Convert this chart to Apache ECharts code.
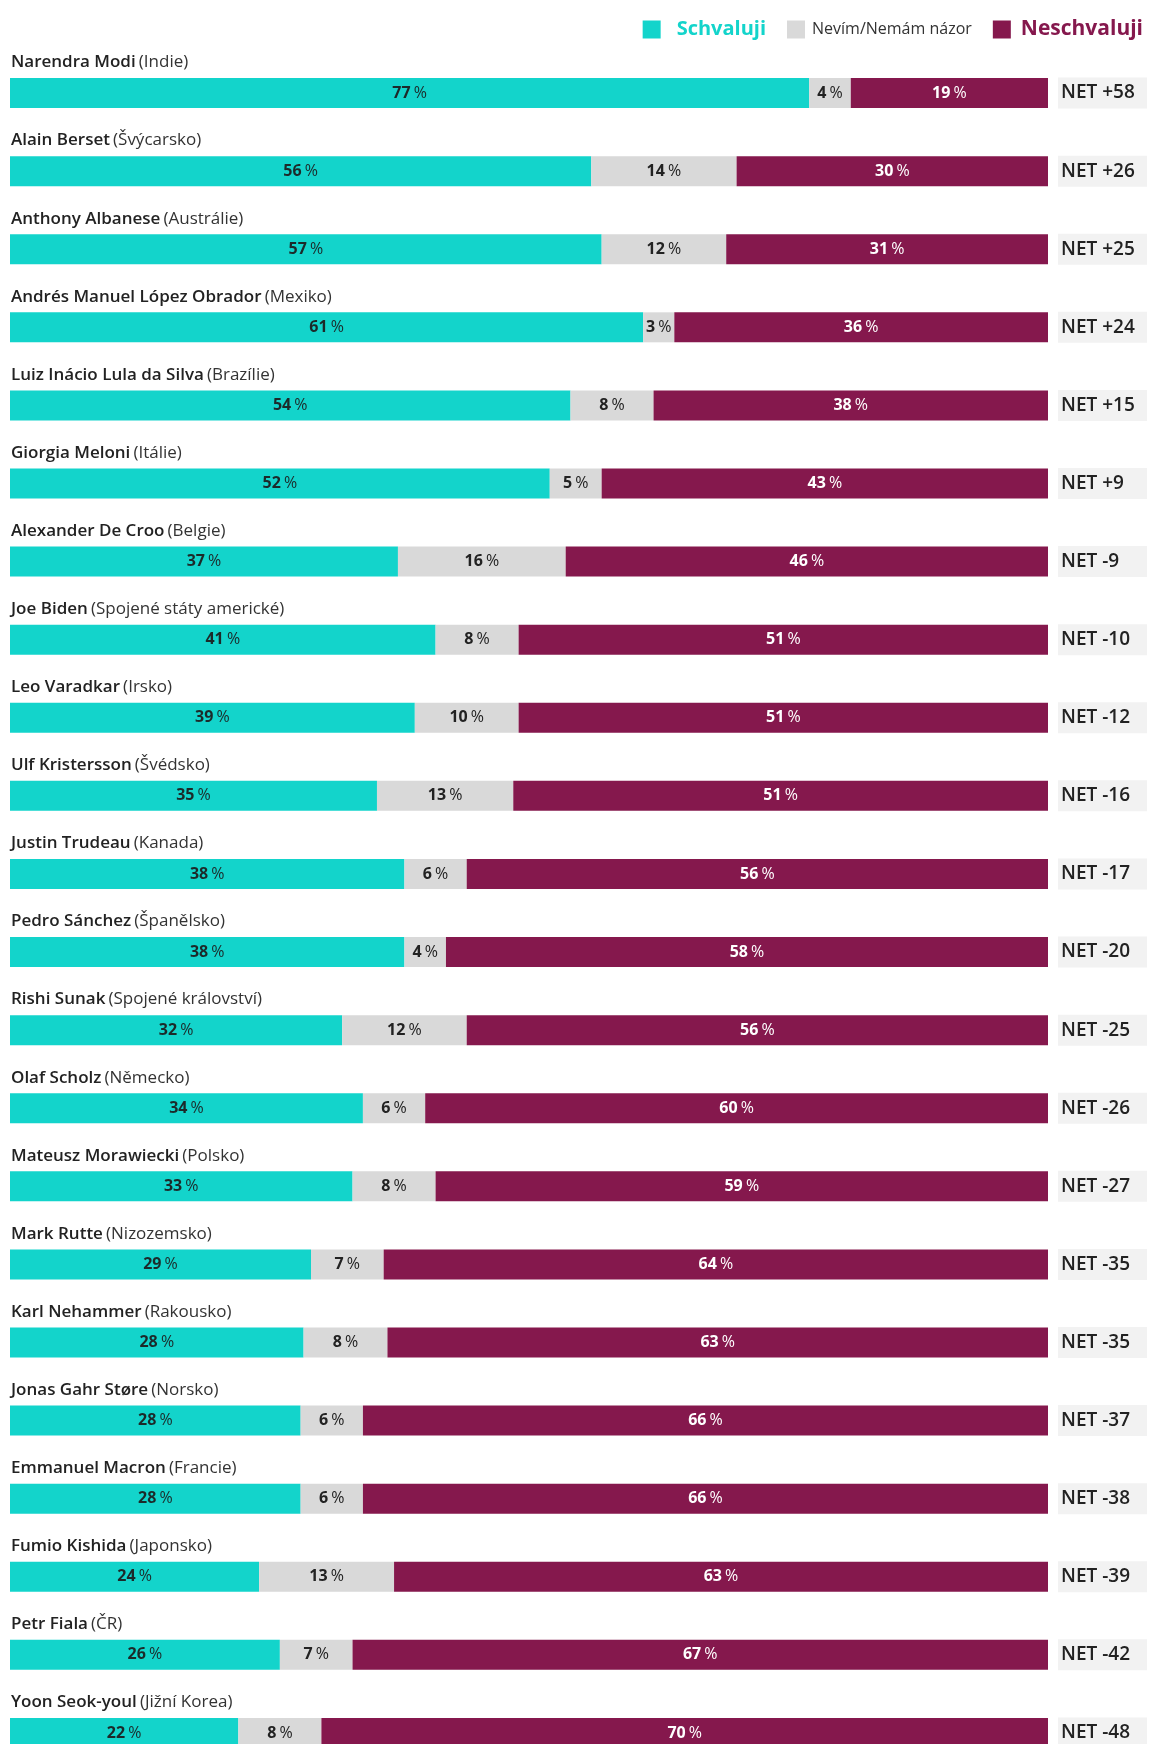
<!DOCTYPE html>
<html>
<head>
<meta charset="utf-8">
<script src="https://cdn.jsdelivr.net/npm/echarts@6/dist/echarts.min.js"></script>
<style>
  html, body { margin: 0; padding: 0; background: #fff; overflow: hidden; }
  #chart { width: 1150px; height: 1790px; }
</style>
</head>
<body>
<div id="chart"></div>
<script>
// leaders and their countries
var leaders = ['Narendra Modi', 'Alain Berset', 'Anthony Albanese', 'Andrés Manuel López Obrador',
  'Luiz Inácio Lula da Silva', 'Giorgia Meloni', 'Alexander De Croo', 'Joe Biden', 'Leo Varadkar',
  'Ulf Kristersson', 'Justin Trudeau', 'Pedro Sánchez', 'Rishi Sunak', 'Olaf Scholz',
  'Mateusz Morawiecki', 'Mark Rutte', 'Karl Nehammer', 'Jonas Gahr Støre', 'Emmanuel Macron',
  'Fumio Kishida', 'Petr Fiala', 'Yoon Seok-youl']
var countries = ['Indie', 'Švýcarsko', 'Austrálie', 'Mexiko', 'Brazílie', 'Itálie', 'Belgie',
  'Spojené státy americké', 'Irsko', 'Švédsko', 'Kanada', 'Španělsko', 'Spojené království',
  'Německo', 'Polsko', 'Nizozemsko', 'Rakousko', 'Norsko', 'Francie', 'Japonsko', 'ČR', 'Jižní Korea']

var approve = [77, 56, 57, 61, 54, 52, 37, 41, 39, 35, 38, 38, 32, 34, 33, 29, 28, 28, 28, 24, 26, 22]
var unsure = [4, 14, 12, 3, 8, 5, 16, 8, 10, 13, 6, 4, 12, 6, 8, 7, 8, 6, 6, 13, 7, 8]
var disapprove = [19, 30, 31, 36, 38, 43, 46, 51, 51, 51, 56, 58, 56, 60, 59, 64, 63, 66, 66, 63, 67, 70]
var netLabels = ['NET +58', 'NET +26', 'NET +25', 'NET +24', 'NET +15', 'NET +9', 'NET -9', 'NET -10',
  'NET -12', 'NET -16', 'NET -17', 'NET -20', 'NET -25', 'NET -26', 'NET -27', 'NET -35', 'NET -35',
  'NET -37', 'NET -38', 'NET -39', 'NET -42', 'NET -48']

var TEAL = '#13d4cb'
var GREY = '#d9d9d9'
var PLUM = '#85184d'
var FONT = 'Open Sans'

// bars are drawn as shares of the row total so every row fills the width
function share(arr) {
  return arr.map(function (v, i) {
    return v / (approve[i] + unsure[i] + disapprove[i]) * 100
  })
}

function pctLabel(arr, color) {
  return {
    show: true,
    position: 'inside',
    formatter: function (p) {
      return '{v|' + arr[p.dataIndex] + '} {p|%}'
    },
    rich: {
      v: { fontFamily: FONT, fontSize: 16, fontWeight: 'bold', color: color },
      p: { fontFamily: FONT, fontSize: 16, color: color }
    }
  }
}

var chart = echarts.init(document.getElementById('chart'))

chart.setOption({
  animation: false,
  textStyle: { fontFamily: FONT },
  legend: {
    top: 14,
    right: 2,
    itemWidth: 18,
    itemHeight: 18,
    itemGap: 21,
    icon: 'rect',
    selectedMode: false,
    data: [
      { name: 'Schvaluji', textStyle: { color: TEAL, fontSize: 20, fontWeight: 'bold', padding: [0, 36, 0, 11] } },
      { name: 'Nevím/Nemám názor', textStyle: { color: '#333', fontSize: 16, padding: [0, 0, 0, 2] } },
      { name: 'Neschvaluji', textStyle: { color: PLUM, fontSize: 21, fontWeight: 'bold', padding: [0, 0, 0, 5] } }
    ]
  },
  grid: {
    left: 10,
    right: 98,
    top: 54,
    height: 1718
  },
  xAxis: {
    type: 'value',
    min: 0,
    max: 100,
    show: false
  },
  yAxis: [
    {
      type: 'category',
      inverse: true,
      data: leaders,
      axisLine: { show: false },
      axisTick: { show: false },
      axisLabel: {
        inside: true,
        interval: 0,
        margin: 1,
        verticalAlign: 'bottom',
        padding: [0, 0, 22, 0],
        formatter: function (val, i) {
          return '{n|' + val + '} {c|(' + countries[i] + ')}'
        },
        rich: {
          n: { fontFamily: FONT, fontSize: 17, fontWeight: 600, color: '#222' },
          c: { fontFamily: FONT, fontSize: 17, color: '#333' }
        }
      }
    },
    {
      type: 'category',
      inverse: true,
      position: 'right',
      data: netLabels,
      axisLine: { show: false },
      axisTick: { show: false },
      axisLabel: {
        interval: 0,
        margin: 10,
        align: 'left',
        color: '#222',
        fontFamily: FONT,
        fontSize: 19,
        fontWeight: 600,
        backgroundColor: '#f2f2f2',
        lineHeight: 19,
        width: 84,
        padding: [6, 2, 6, 3]
      }
    }
  ],
  series: [
    {
      name: 'Schvaluji',
      type: 'bar',
      stack: 'all',
      barWidth: 30,
      itemStyle: { color: TEAL },
      label: pctLabel(approve, '#1c2a2a'),
      data: share(approve)
    },
    {
      name: 'Nevím/Nemám názor',
      type: 'bar',
      stack: 'all',
      barWidth: 30,
      itemStyle: { color: GREY },
      label: pctLabel(unsure, '#222'),
      data: share(unsure)
    },
    {
      name: 'Neschvaluji',
      type: 'bar',
      stack: 'all',
      barWidth: 30,
      itemStyle: { color: PLUM },
      label: pctLabel(disapprove, '#fff'),
      data: share(disapprove)
    }
  ]
})
</script>
</body>
</html>
